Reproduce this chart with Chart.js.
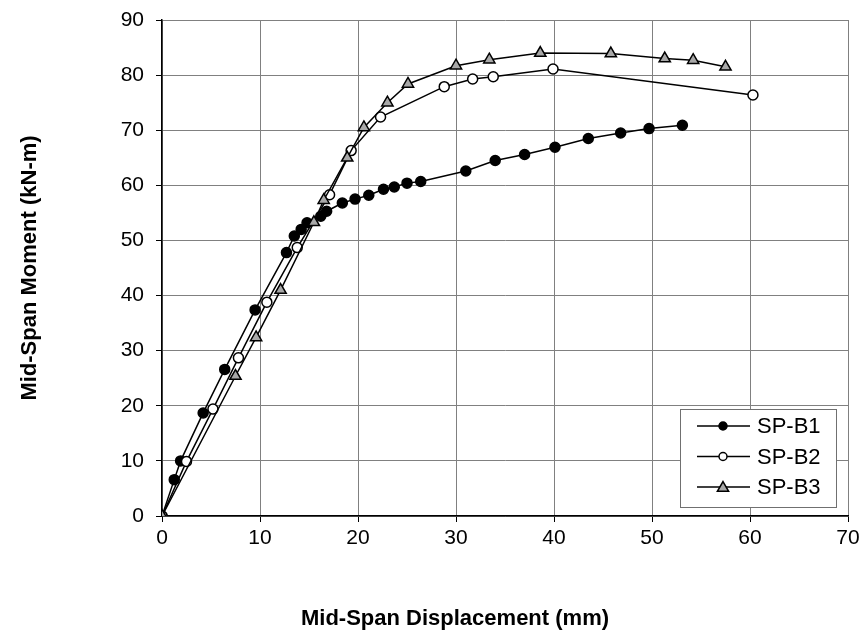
<!DOCTYPE html>
<html>
<head>
<meta charset="utf-8">
<script src="https://cdn.jsdelivr.net/npm/chart.js@4.4.1/dist/chart.umd.min.js"></script>
<style>
  html, body { margin: 0; padding: 0; background: #ffffff; }
  #wrap { width: 865px; height: 643px; }
</style>
</head>
<body>
<div id="wrap"><canvas id="momentChart" width="865" height="643"></canvas></div>
<script>
// Mid-span displacement (mm) and moment (kN-m)
const b1Disp   = [0, 1.25, 1.9, 4.2, 6.4, 9.5, 12.7, 13.5, 14.2, 14.8, 16.2, 16.8, 18.4, 19.7, 21.1, 22.6, 23.7, 25.0, 26.4, 31.0, 34.0, 37.0, 40.1, 43.5, 46.8, 49.7, 53.1];
const b1Moment = [0, 6.6, 10.0, 18.7, 26.6, 37.4, 47.8, 50.8, 52.0, 53.2, 54.4, 55.3, 56.8, 57.5, 58.2, 59.3, 59.7, 60.4, 60.7, 62.6, 64.5, 65.6, 66.9, 68.5, 69.5, 70.3, 70.9];

const b2Disp   = [0, 2.5, 5.2, 7.8, 10.7, 13.8, 17.1, 19.3, 22.3, 28.8, 31.7, 33.8, 39.9, 60.3];
const b2Moment = [0, 9.9, 19.4, 28.7, 38.8, 48.7, 58.3, 66.3, 72.4, 77.9, 79.3, 79.7, 81.1, 76.4];

const b3Disp   = [0, 7.5, 9.6, 12.1, 15.5, 16.5, 18.9, 20.6, 23.0, 25.1, 30.0, 33.4, 38.6, 45.8, 51.3, 54.2, 57.5];
const b3Moment = [0, 25.4, 32.4, 41.0, 53.3, 57.3, 65.0, 70.5, 75.0, 78.4, 81.7, 82.8, 84.0, 83.9, 83.0, 82.7, 81.5];

const seriesNames = ['SP-B1', 'SP-B2', 'SP-B3'];

function toPoints(xs, ys) {
    return xs.map((x, i) => ({ x: x, y: ys[i] }));
}

const FONT = 'Arial, "Liberation Sans", sans-serif';

// marker styles per series (filled dot, open dot, grey triangle)
const markerStyles = [
    { pointStyle: 'circle',   radius: 5, fill: '#000000' },
    { pointStyle: 'circle',   radius: 5, fill: '#ffffff' },
    { pointStyle: 'triangle', radius: 6.5, fill: '#a8a8a8' }
];

const seriesData = [
    toPoints(b1Disp, b1Moment),
    toPoints(b2Disp, b2Moment),
    toPoints(b3Disp, b3Moment)
];

// Excel-like legend box inside the plot, plus the x axis title
const boxLegend = {
    id: 'boxLegend',
    afterDraw(chart) {
        const ctx = chart.ctx;
        const bx = 680, by = 409, bw = 156, bh = 98;
        ctx.save();
        ctx.fillStyle = '#ffffff';
        ctx.fillRect(bx, by, bw, bh);
        ctx.strokeStyle = '#707070';
        ctx.lineWidth = 1;
        ctx.strokeRect(bx + 0.5, by + 0.5, bw, bh);

        seriesNames.forEach((name, i) => {
            const y = 426 + i * 30.5;
            ctx.strokeStyle = '#000000';
            ctx.lineWidth = 1.5;
            ctx.beginPath();
            ctx.moveTo(697, y);
            ctx.lineTo(750, y);
            ctx.stroke();
            const m = markerStyles[i];
            ctx.fillStyle = m.fill;
            ctx.strokeStyle = '#000000';
            ctx.lineWidth = 1.5;
            Chart.helpers.drawPoint(ctx, {
                pointStyle: m.pointStyle,
                radius: m.pointStyle === 'triangle' ? 6.5 : 4,
                borderWidth: 1.5
            }, 723, m.pointStyle === 'triangle' ? y + 1 : y);
            ctx.fillStyle = '#000000';
            ctx.font = '22px ' + FONT;
            ctx.textBaseline = 'middle';
            ctx.textAlign = 'left';
            ctx.fillText(name, 757, y + 1);
        });

        ctx.font = 'bold 22px ' + FONT;
        ctx.textAlign = 'center';
        ctx.textBaseline = 'middle';
        ctx.fillText('Mid-Span Displacement (mm)', 455, 619);
        ctx.restore();
    }
};

const ctxMoment = document.getElementById('momentChart').getContext('2d');

const momentChart = new Chart(ctxMoment, {
    type: 'scatter',
    data: {
        datasets: seriesData.map((pts, i) => ({
            label: seriesNames[i],
            data: pts,
            showLine: true,
            borderColor: '#000000',
            borderWidth: 1.5,
            pointStyle: markerStyles[i].pointStyle,
            pointRadius: markerStyles[i].radius,
            pointBackgroundColor: markerStyles[i].fill,
            pointBorderColor: '#000000',
            pointBorderWidth: 1.5,
            tension: 0,
            order: 3 - i
        }))
    },
    options: {
        responsive: false,
        animation: false,
        layout: { padding: { left: 0, top: 20, right: 17, bottom: 0 } },
        plugins: {
            legend: { display: false },
            tooltip: { enabled: false }
        },
        scales: {
            x: {
                type: 'linear',
                min: 0,
                max: 70,
                afterFit(scale) {
                    scale.height = 127;
                    scale.paddingLeft = 0;
                    scale.paddingRight = 0;
                },
                ticks: {
                    stepSize: 10,
                    color: '#000000',
                    padding: 4,
                    maxRotation: 0,
                    font: { size: 21, family: FONT }
                },
                grid: {
                    color: '#808080',
                    lineWidth: 1,
                    tickLength: 6,
                    tickColor: '#000000'
                },
                border: { color: '#000000', width: 1.5 }
            },
            y: {
                type: 'linear',
                min: 0,
                max: 90,
                afterFit(scale) {
                    scale.width = 162;
                    scale.paddingTop = 0;
                    scale.paddingBottom = 0;
                },
                ticks: {
                    stepSize: 10,
                    color: '#000000',
                    padding: 12,
                    font: { size: 21, family: FONT }
                },
                grid: {
                    color: '#808080',
                    lineWidth: 1,
                    tickLength: 6,
                    tickColor: '#000000'
                },
                border: { color: '#000000', width: 1.5 },
                title: {
                    display: true,
                    text: 'Mid-Span Moment (kN-m)',
                    color: '#000000',
                    font: { size: 22, weight: 'bold', family: FONT },
                    padding: { top: 17, bottom: 0 }
                }
            }
        }
    },
    plugins: [boxLegend]
});
</script>
</body>
</html>
